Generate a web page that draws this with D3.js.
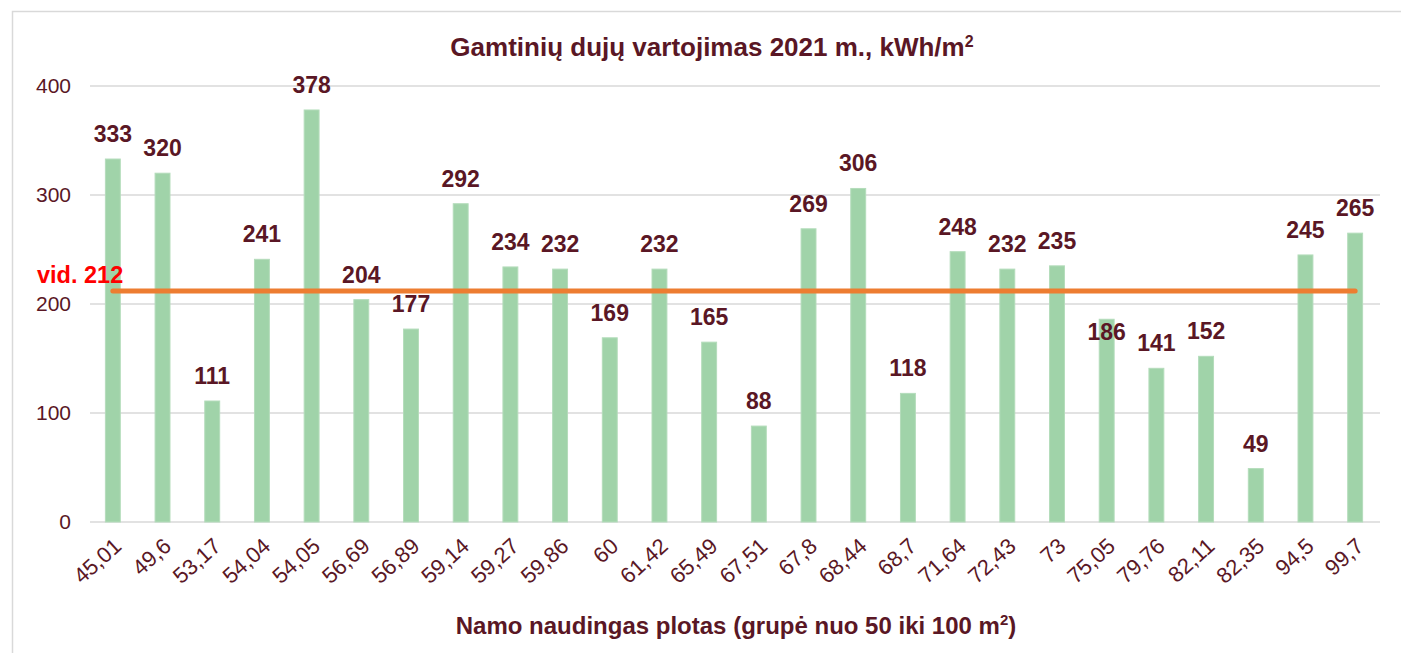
<!DOCTYPE html>
<html>
<head>
<meta charset="utf-8">
<script src="https://cdn.jsdelivr.net/npm/d3@7"></script>
<style>
  body { margin: 0; background: #fff; }
  text { font-family: "Liberation Sans", Arial, sans-serif; }
</style>
</head>
<body>
<div id="chart"></div>
<script>
// chart data
const categories = ['45,01', '49,6', '53,17', '54,04', '54,05', '56,69', '56,89', '59,14', '59,27', '59,86',
    '60', '61,42', '65,49', '67,51', '67,8', '68,44', '68,7', '71,64', '72,43', '73',
    '75,05', '79,76', '82,11', '82,35', '94,5', '99,7'];
const values = [333, 320, 111, 241, 378, 204, 177, 292, 234, 232,
    169, 232, 165, 88, 269, 306, 118, 248, 232, 235,
    186, 141, 152, 49, 245, 265];
const average = 212;
const yTicks = [0, 100, 200, 300, 400];

const width = 1401;
const height = 653;
const margin = {top: 86, left: 88, bottom: 131, right: 21};
const textColor = '#5a1725';

const svg = d3.select('#chart').append('svg')
    .attr('width', width)
    .attr('height', height);

// outer frame
svg.append('rect')
    .attr('x', 12.5).attr('y', 11.5)
    .attr('width', width + 20).attr('height', height + 20)
    .attr('fill', 'none')
    .attr('stroke', '#d9d9d9')
    .attr('stroke-width', 1.5);

const x = d3.scaleBand()
    .domain(categories)
    .range([margin.left, width - margin.right])
    .paddingInner(0.7)
    .paddingOuter(0.35);

const y = d3.scaleLinear()
    .domain([0, 400])
    .range([height - margin.bottom, margin.top]);

// gridlines
svg.append('g')
    .selectAll('line')
    .data(yTicks)
    .join('line')
    .attr('x1', margin.left + 2)
    .attr('x2', width - margin.right)
    .attr('y1', d => y(d))
    .attr('y2', d => y(d))
    .attr('stroke', '#d9d9d9')
    .attr('stroke-width', 1.5);

// y axis
const yAxis = svg.append('g')
    .attr('transform', `translate(${margin.left}, 0)`)
    .call(d3.axisLeft(y).tickValues(yTicks).tickSize(0).tickPadding(17));
yAxis.select('.domain').remove();
yAxis.selectAll('text')
    .attr('fill', textColor)
    .style('font-size', '21px');

// bars
svg.append('g')
    .selectAll('rect')
    .data(values)
    .join('rect')
    .attr('x', (d, i) => x(categories[i]))
    .attr('y', d => y(d))
    .attr('width', x.bandwidth())
    .attr('height', d => y(0) - y(d))
    .attr('fill', '#a0d3a9')
    .attr('stroke', '#b4dcbb')
    .attr('stroke-width', 1);

// data labels - a label that would sit on the average line is pushed below it
const hitsLine = d => y(d) - 17 > y(average) - 4 && y(d) - 34 < y(average) + 4;
svg.append('g')
    .selectAll('text')
    .data(values)
    .join('text')
    .attr('x', (d, i) => x(categories[i]) + x.bandwidth() / 2)
    .attr('y', d => hitsLine(d) ? y(d) + 21 : y(d) - 17)
    .attr('text-anchor', 'middle')
    .attr('fill', textColor)
    .style('font-size', '23px')
    .style('font-weight', 'bold')
    .text(d => d);

// x axis
const xAxis = svg.append('g')
    .attr('transform', `translate(0, ${y(0)})`)
    .call(d3.axisBottom(x).tickSize(0).tickPadding(0));
xAxis.select('.domain').remove();
xAxis.selectAll('text')
    .attr('fill', textColor)
    .style('font-size', '22px')
    .style('text-anchor', 'end')
    .attr('dy', 0)
    .attr('transform', 'translate(10, 26) rotate(-42)');

// average line
const first = x(categories[0]) + x.bandwidth() / 2;
const last = x(categories[categories.length - 1]) + x.bandwidth() / 2;
svg.append('line')
    .attr('x1', first).attr('x2', last)
    .attr('y1', y(average)).attr('y2', y(average))
    .attr('stroke', '#ed7d31')
    .attr('stroke-width', 5)
    .attr('stroke-linecap', 'round');

svg.append('text')
    .attr('x', 37)
    .attr('y', y(average) - 8)
    .attr('fill', '#ff0000')
    .style('font-size', '23.5px')
    .style('font-weight', 'bold')
    .text('vid. ' + average);

// title
const title = svg.append('text')
    .attr('x', 712)
    .attr('y', 56)
    .attr('text-anchor', 'middle')
    .attr('fill', textColor)
    .style('font-size', '26px')
    .style('font-weight', 'bold');
title.append('tspan').text('Gamtinių dujų vartojimas 2021 m., kWh/m');
title.append('tspan').attr('dy', -9).style('font-size', '16px').text('2');

// x axis title
const xTitle = svg.append('text')
    .attr('x', 736)
    .attr('y', 634)
    .attr('text-anchor', 'middle')
    .attr('fill', textColor)
    .style('font-size', '24px')
    .style('font-weight', 'bold');
xTitle.append('tspan').text('Namo naudingas plotas (grupė nuo 50 iki 100 m');
xTitle.append('tspan').attr('dy', -9).style('font-size', '15px').text('2');
xTitle.append('tspan').attr('dy', 9).text(')');
</script>
</body>
</html>
